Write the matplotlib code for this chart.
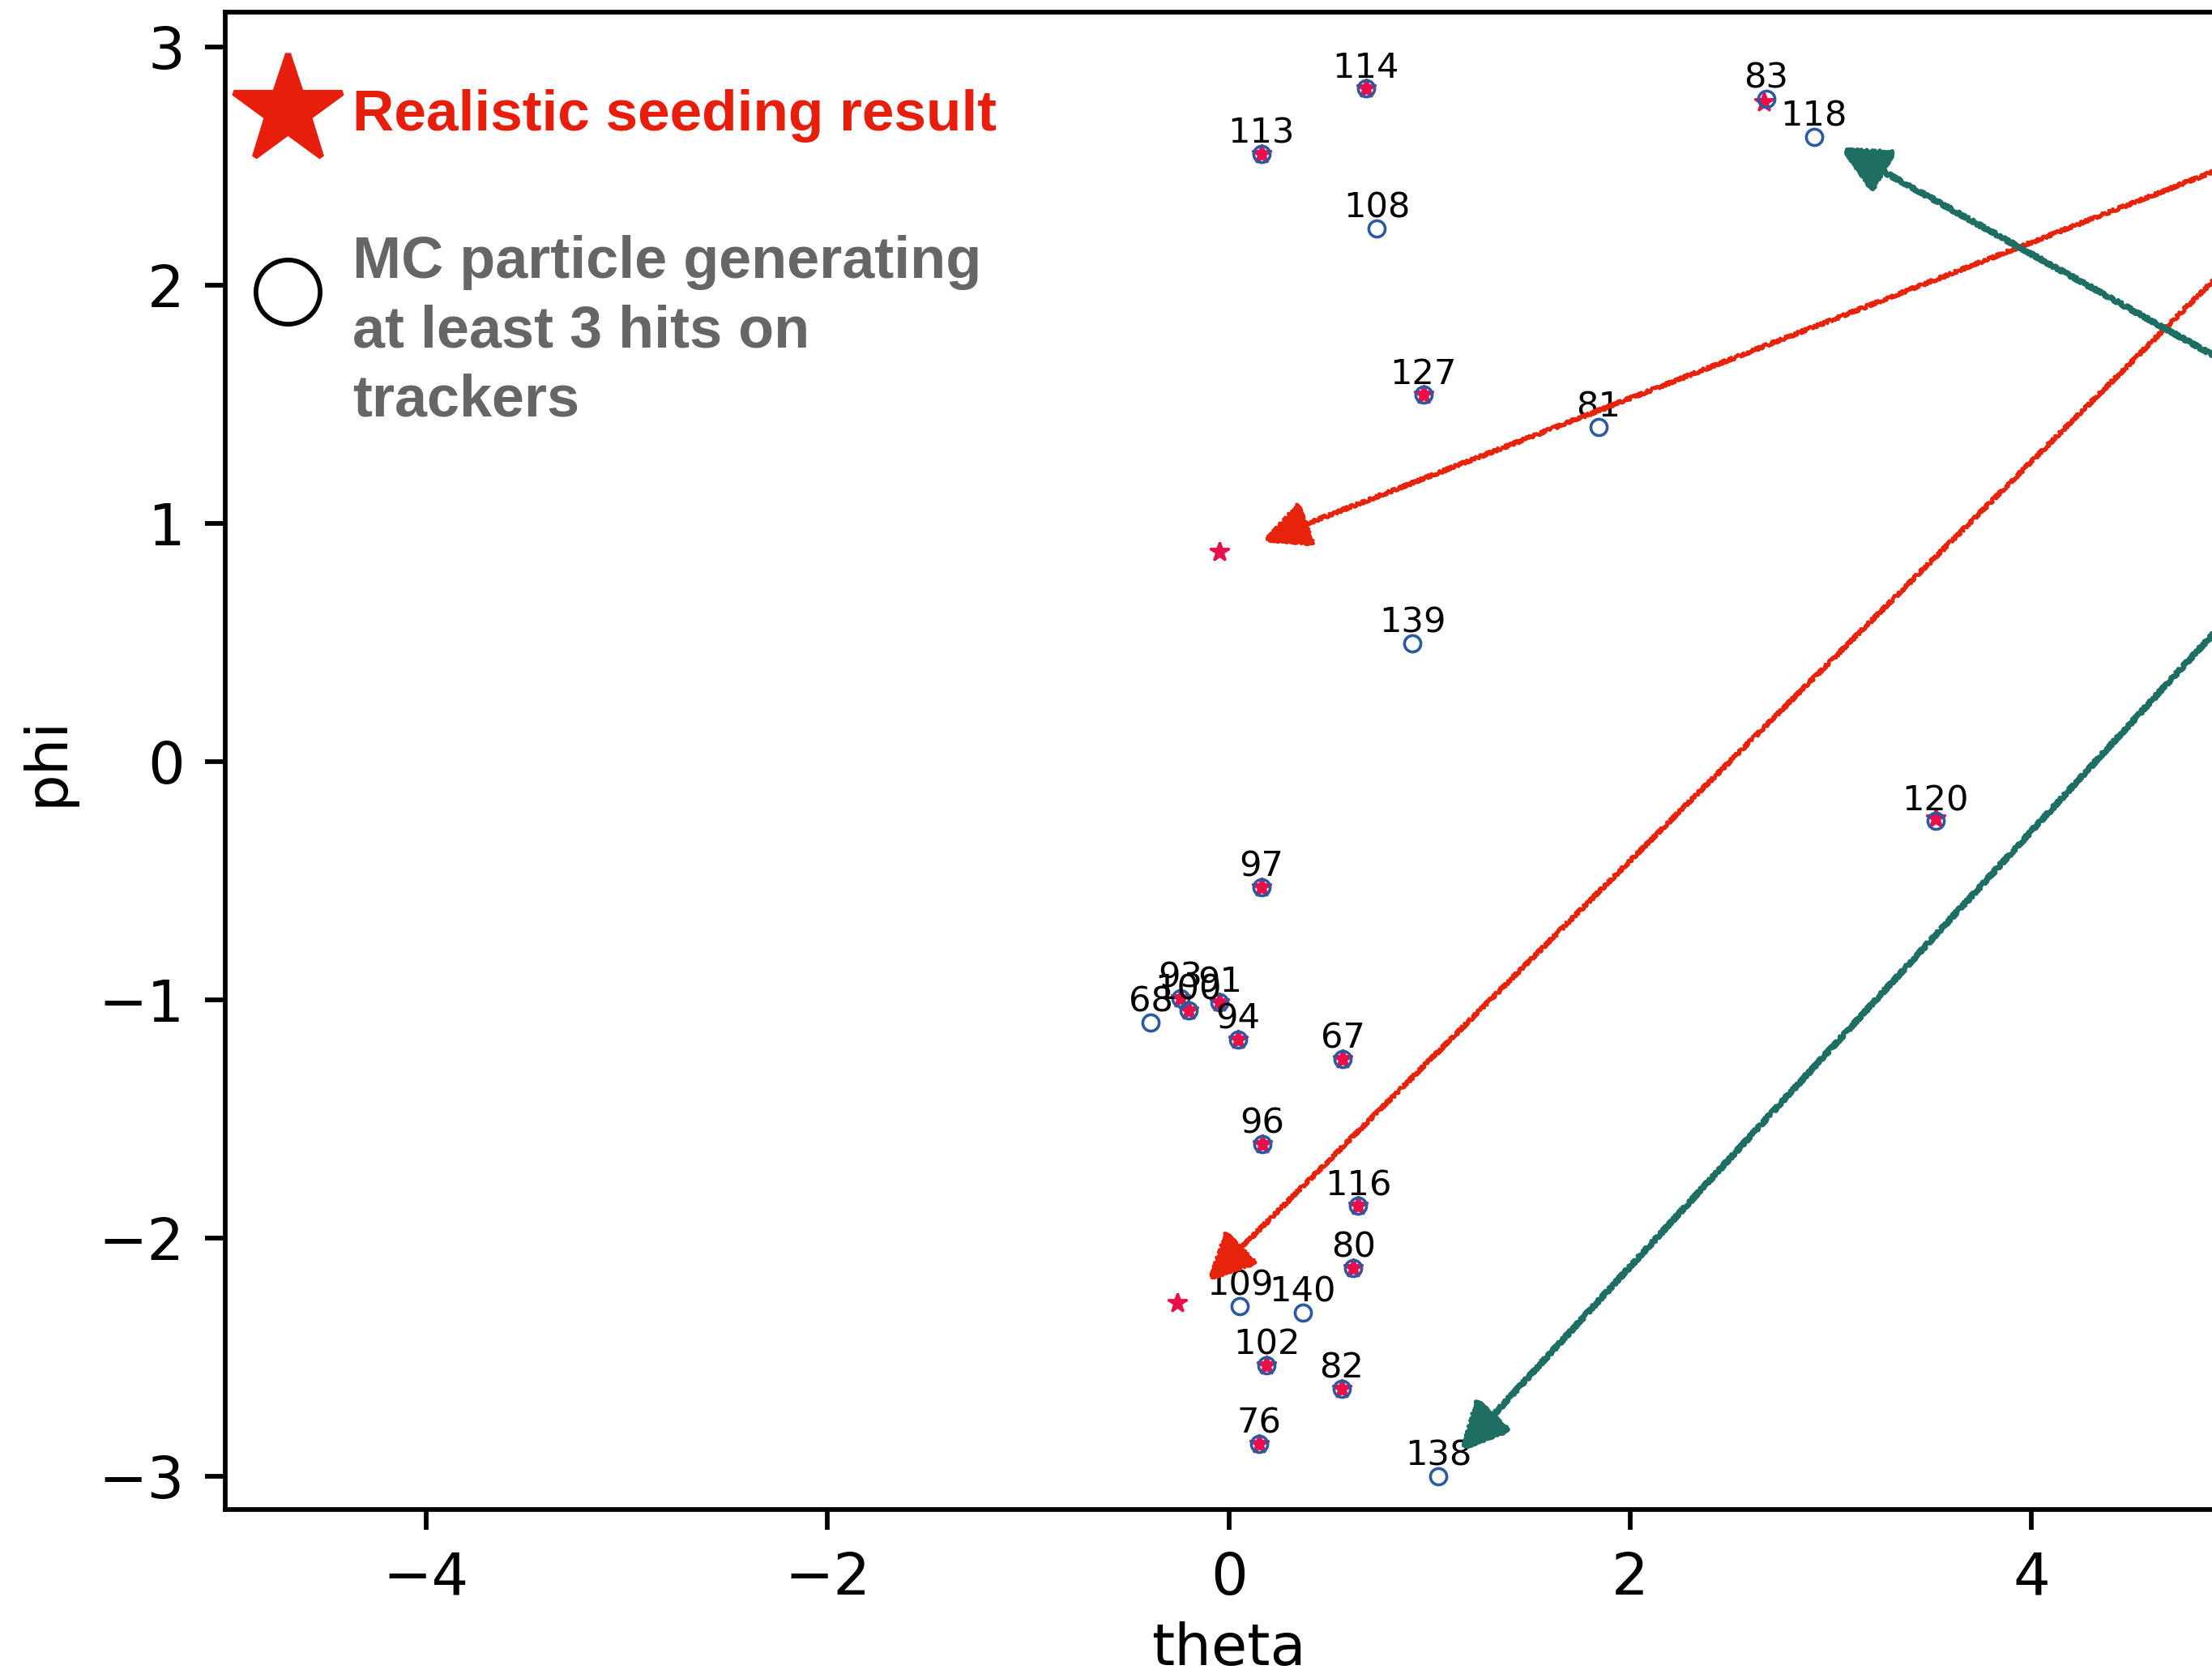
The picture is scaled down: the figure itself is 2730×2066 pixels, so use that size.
import matplotlib

matplotlib.use("Agg")
import matplotlib.pyplot as plt
from matplotlib.lines import Line2D

# MC particles leaving >= 3 tracker hits (id, theta, phi)
mc_id = [114, 113, 108, 83, 118, 127, 81, 139, 120, 97, 68, 93, 100, 91,
         94, 67, 96, 116, 80, 109, 140, 102, 82, 76, 138]
mc_theta = [0.682, 0.162, 0.738, 2.677, 2.916, 0.970, 1.841, 0.914, 3.522,
            0.162, -0.390, -0.241, -0.201, -0.046, 0.045, 0.568, 0.165,
            0.644, 0.620, 0.054, 0.367, 0.189, 0.563, 0.151, 1.044]
mc_phi = [2.826, 2.553, 2.239, 2.784, 2.624, 1.540, 1.404, 0.498, -0.249,
          -0.527, -1.094, -0.992, -1.043, -1.011, -1.167, -1.247, -1.604,
          -1.865, -2.126, -2.285, -2.311, -2.534, -2.631, -2.863, -2.999]

# realistic seeding output
seed_theta = [0.682, 0.162, 2.665, 0.970, 3.522, 0.162, -0.241, -0.201,
              -0.046, 0.045, 0.568, 0.165, 0.644, 0.620, 0.189, 0.563,
              0.151, -0.049, -0.258]
seed_phi = [2.826, 2.553, 2.770, 1.540, -0.237, -0.527, -0.992, -1.043,
            -1.011, -1.167, -1.247, -1.604, -1.865, -2.126, -2.534, -2.631,
            -2.863, 0.883, -2.270]

# arrows (start -> tip) in (theta, phi)
red_start = [(5.80, 2.77), (5.80, 2.77)]
red_tip = [(0.173, 0.928), (-0.100, -2.175)]
teal_start = [(5.75, 1.31), (5.75, 1.31)]
teal_tip = [(3.055, 2.575), (1.158, -2.889)]

DPI = 518.4
STAR_C = "#e8104a"
RING_C = "#2b5a9e"
RED_C = "#e8230c"
TEAL_C = "#1e6e64"


def draw_arrows(ax, starts, tips, color, lw):
    for (x0, y0), (x1, y1) in zip(starts, tips):
        ann = ax.annotate(
            "",
            xy=(x1, y1),
            xytext=(x0, y0),
            annotation_clip=False,
            arrowprops=dict(
                arrowstyle="-|>,head_length=0.5,head_width=0.25",
                color=color,
                lw=lw,
                mutation_scale=14,
                shrinkA=0,
                shrinkB=0,
            ),
        )
        ann.arrow_patch.set_sketch_params(scale=2.0, length=3, randomness=3)


fig = plt.figure(figsize=(2730 / DPI, 2066 / DPI), dpi=DPI)
ax = fig.add_axes([0.10194, 0.09811, 0.90722, 0.89463])

ax.plot(seed_theta, seed_phi, linestyle="none", marker="*", markersize=3.4,
        color=STAR_C, markeredgewidth=0.4)
ax.plot(mc_theta, mc_phi, linestyle="none", marker="o", markersize=2.8,
        markerfacecolor="none", markeredgecolor=RING_C, markeredgewidth=0.5)
for pid, t, p in zip(mc_id, mc_theta, mc_phi):
    ax.annotate(str(pid), (t, p), xytext=(0, 0.6), textcoords="offset points",
                ha="center", va="bottom", fontsize=6)

draw_arrows(ax, red_start, red_tip, RED_C, 0.6)
draw_arrows(ax, teal_start, teal_tip, TEAL_C, 0.8)

ax.set_xlim(-5, 5)
ax.set_ylim(-3.14, 3.147)
ax.set_xlabel("theta", labelpad=2.5)
ax.set_ylabel("phi")

# hand-made key in the upper left
fig.add_artist(Line2D([0.130], [0.934], marker="*", markersize=19.5,
                      color="#e81e0c", linestyle="none"))
fig.add_artist(Line2D([0.130], [0.8256], marker="o", markersize=11,
                      markerfacecolor="none", markeredgecolor="black",
                      markeredgewidth=0.8, linestyle="none"))
fig.text(0.1593, 0.931, "Realistic seeding result", color="#e81e0c",
         fontsize=9.9, fontweight="bold", family="Liberation Sans",
         ha="left", va="center")
fig.text(0.1593, 0.802, "MC particle generating\nat least 3 hits on\ntrackers",
         color="#666666", fontsize=10, fontweight="bold",
         family="Liberation Sans", ha="left", va="center", linespacing=1.33)

fig.savefig("out.png", dpi=DPI)
plt.close(fig)
